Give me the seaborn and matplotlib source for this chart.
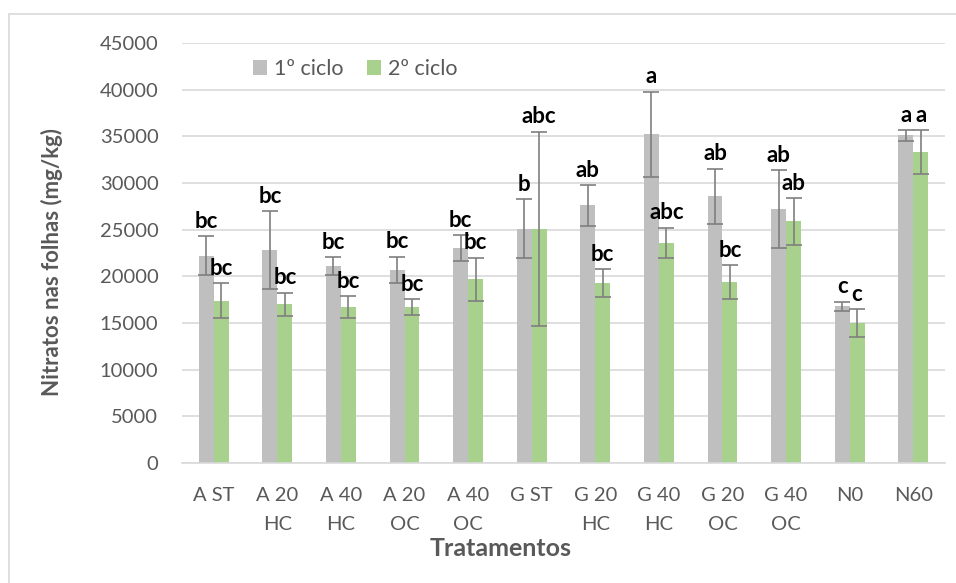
import numpy as np
import pandas as pd
import matplotlib
matplotlib.use("Agg")
import matplotlib.pyplot as plt
import seaborn as sns
from matplotlib.patches import Rectangle

# -------------------------- dados --------------------------
tratamentos = ["A ST", "A 20\nHC", "A 40\nHC", "A 20\nOC", "A 40\nOC", "G ST",
               "G 20\nHC", "G 40\nHC", "G 20\nOC", "G 40\nOC", "N0", "N60"]
ciclos = ["1º ciclo", "2º ciclo"]

media_c1 = [22200, 22800, 21100, 20700, 23000, 25100, 27600, 35200, 28600, 27200, 16800, 35100]
media_c2 = [17400, 17000, 16700, 16700, 19700, 25100, 19300, 23600, 19400, 25900, 15000, 33300]
erro_c1 = [2100, 4150, 950, 1400, 1400, 3150, 2200, 4600, 2950, 4200, 500, 550]
erro_c2 = [1900, 1250, 1200, 850, 2300, 10400, 1500, 1600, 1800, 2500, 1500, 2350]
letras_c1 = ["bc", "bc", "bc", "bc", "bc", "b", "ab", "a", "ab", "ab", "c", "a"]
letras_c2 = ["bc", "bc", "bc", "bc", "bc", "abc", "bc", "abc", "bc", "ab", "c", "a"]

df = pd.DataFrame({
    "Tratamento": tratamentos * 2,
    "Ciclo": [ciclos[0]] * len(tratamentos) + [ciclos[1]] * len(tratamentos),
    "Nitratos": media_c1 + media_c2,
})
erros = [erro_c1, erro_c2]
letras = [letras_c1, letras_c2]

# -------------------------- estilo --------------------------
sns.set_theme(style="white")
plt.rcParams['font.family'] = ['Lato', 'DejaVu Sans']
TXT = "#595959"
cores = {"1º ciclo": "#BFBFBF", "2º ciclo": "#A9D18E"}

W, H = 956, 583
fig = plt.figure(figsize=(W / 100, H / 100), dpi=100)
ax = fig.add_axes([182 / W, 1 - 463 / H, (945 - 182) / W, 420 / H])

sns.barplot(data=df, x="Tratamento", y="Nitratos", hue="Ciclo", order=tratamentos,
            hue_order=ciclos, palette=cores, width=0.47, gap=0, errorbar=None,
            saturation=1, ax=ax, linewidth=0)

# barras de erro e letras sobre cada barra
barras = list(ax.containers)
for i, cont in enumerate(barras):
    for j, bar in enumerate(cont):
        xc = bar.get_x() + bar.get_width() / 2
        yv = bar.get_height()
        ax.errorbar(xc, yv, yerr=erros[i][j], color="#7F7F7F", elinewidth=1.2,
                    capsize=5.5, capthick=1.2, fmt="none", zorder=3)
        ax.annotate(letras[i][j], (xc, yv + erros[i][j]), xytext=(0, 6),
                    textcoords="offset points", ha="center", va="baseline",
                    fontsize=16, fontweight="bold", color="black")

ax.set_ylim(0, 45000)
ax.set_xlim(-0.5, len(tratamentos) - 0.5)
ax.set_yticks(np.arange(0, 45001, 5000))
ax.yaxis.grid(True, color="#D9D9D9", linewidth=1.2)
ax.set_axisbelow(True)
for s in ["top", "right", "left"]:
    ax.spines[s].set_visible(False)
ax.spines["bottom"].set_color("#D9D9D9")
ax.spines["bottom"].set_linewidth(1.2)
ax.tick_params(axis="y", length=0, pad=17, labelsize=14.5, labelcolor=TXT)
ax.tick_params(axis="x", length=0, pad=17, labelsize=14.5, labelcolor=TXT)
for t in ax.get_xticklabels():
    t.set_linespacing(1.9)
ax.set_xlabel("")
ax.set_ylabel("")

fig.text(52 / W, 1 - 262 / H, "Nitratos nas folhas (mg/kg)", rotation=90,
         ha="center", va="center", fontsize=16, fontweight="bold", color=TXT)
fig.text(501 / W, 1 - 548 / H, "Tratamentos", ha="center", va="center",
         fontsize=18, fontweight="bold", color=TXT)

handles, labels = ax.get_legend_handles_labels()
ax.legend(handles, labels, loc="center left", bbox_to_anchor=(253 / W, 1 - 69 / H),
          bbox_transform=fig.transFigure, ncol=2, frameon=False, fontsize=15.5,
          labelcolor=TXT, handlelength=0.66, handleheight=0.66, handletextpad=0.3,
          columnspacing=1.1, borderpad=0, borderaxespad=0)

# moldura do gráfico
fig.patches.append(Rectangle((9 / W, -0.1), 1.2, 1 - 14 / H + 0.1, transform=fig.transFigure,
                             fill=False, edgecolor="#D9D9D9", linewidth=1.2))

fig.savefig("out.png", dpi=100)
